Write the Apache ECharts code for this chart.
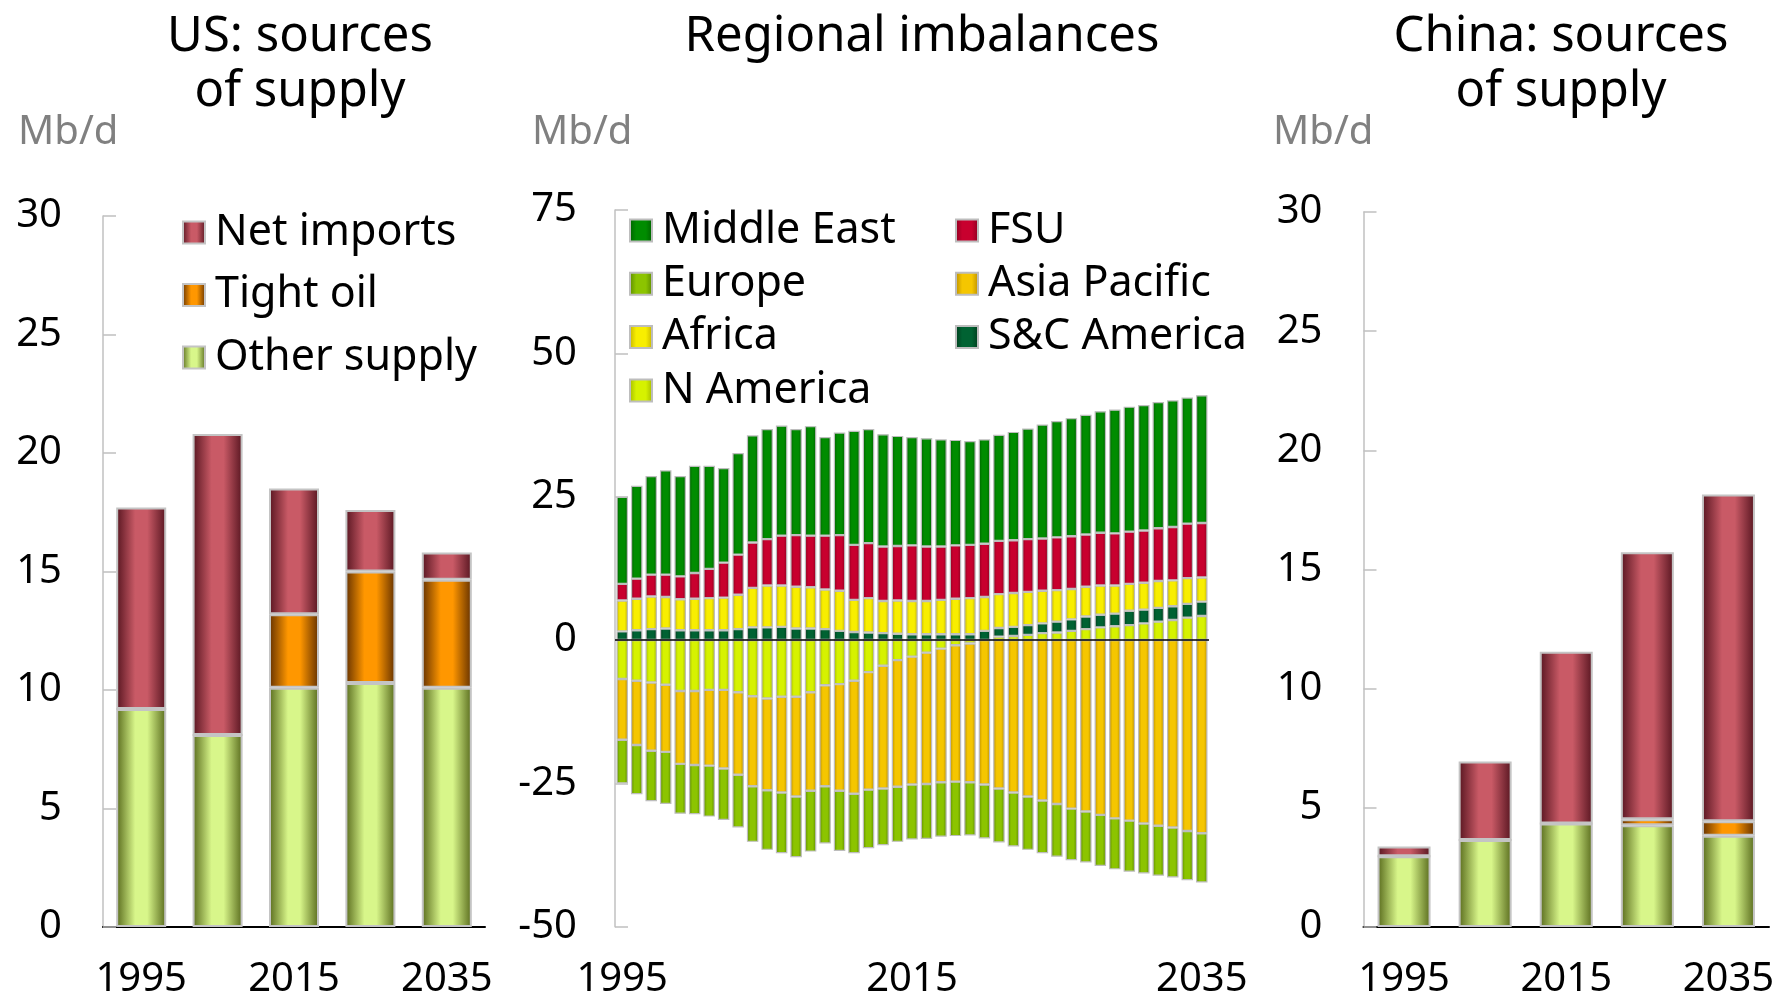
<!DOCTYPE html>
<html>
<head>
<meta charset="utf-8">
<title>Oil: sources of supply and regional imbalances</title>
<script src="https://cdn.jsdelivr.net/npm/echarts@6/dist/echarts.min.js"></script>
<style>
  html, body { margin: 0; padding: 0; background: #fff; }
  #chart { width: 1778px; height: 1000px; }
</style>
</head>
<body>
<div id="chart"></div>
<script>
// side panels (US, China), every 10 years
const sideYears = ['1995', '2005', '2015', '2025', '2035'];
const usOther = [9.2, 8.1, 10.1, 10.3, 10.1];
const usTight = [0, 0, 3.1, 4.7, 4.55];
const usNetImports = [8.5, 12.7, 5.3, 2.6, 1.15];
const cnOther = [2.97, 3.65, 4.34, 4.27, 3.83];
const cnTight = [0, 0, 0, 0.25, 0.61];
const cnNetImports = [0.41, 3.29, 7.21, 11.2, 13.71];

// regional imbalances, Mb/d, 1995-2035
const years = ['1995', '1996', '1997', '1998', '1999', '2000', '2001', '2002', '2003', '2004',
  '2005', '2006', '2007', '2008', '2009', '2010', '2011', '2012', '2013', '2014',
  '2015', '2016', '2017', '2018', '2019', '2020', '2021', '2022', '2023', '2024',
  '2025', '2026', '2027', '2028', '2029', '2030', '2031', '2032', '2033', '2034', '2035'];
const nAmerica = [-6.8, -7.1, -7.4, -7.8, -8.9, -8.9, -8.7, -8.7, -9.1, -9.8, -10.2, -9.9, -9.9, -9.1, -7.9, -7.7, -7.1, -5.6, -4.5, -3.5,
  -2.9, -2.2, -1.5, -0.9, -0.6, 0, 0.6, 0.7, 0.9, 1.2, 1.3, 1.6, 1.9, 2.2, 2.4, 2.6, 2.9, 3.2, 3.5, 3.9, 4.2];
const scAmerica = [1.5, 1.7, 1.9, 2.0, 1.7, 1.7, 1.7, 1.7, 1.9, 2.2, 2.2, 2.3, 2.0, 2.0, 1.9, 1.6, 1.4, 1.3, 1.2, 1.1,
  1.0, 1.0, 1.0, 1.0, 1.0, 1.6, 1.5, 1.6, 1.7, 1.7, 1.9, 2.0, 2.2, 2.2, 2.2, 2.5, 2.4, 2.4, 2.4, 2.4, 2.5];
const africa = [5.4, 5.5, 5.7, 5.5, 5.4, 5.5, 5.6, 5.7, 6.0, 6.9, 7.3, 7.2, 7.3, 7.2, 6.9, 7.0, 5.6, 6.0, 5.6, 5.8,
  5.8, 5.8, 6.0, 6.2, 6.3, 5.9, 5.9, 5.9, 5.8, 5.7, 5.5, 5.3, 5.2, 5.1, 4.9, 4.7, 4.7, 4.7, 4.5, 4.5, 4.2];
const fsu = [2.9, 3.5, 3.8, 3.9, 4.0, 4.5, 5.1, 6.1, 7.0, 7.9, 8.1, 8.7, 9.0, 9.0, 9.4, 9.7, 9.6, 9.6, 9.5, 9.5,
  9.7, 9.5, 9.3, 9.3, 9.3, 9.3, 9.3, 9.2, 9.2, 9.1, 9.2, 9.2, 9.1, 9.2, 9.1, 9.1, 9.1, 9.2, 9.3, 9.5, 9.5];
const middleEast = [15.2, 16.2, 17.2, 18.2, 17.5, 18.7, 18.0, 16.5, 17.7, 18.7, 19.2, 19.2, 18.5, 19.1, 17.2, 17.9, 19.9, 19.9, 19.6, 19.2,
  18.9, 18.9, 18.7, 18.4, 18.1, 18.2, 18.5, 18.9, 19.3, 19.9, 20.3, 20.6, 20.9, 21.2, 21.6, 21.8, 21.9, 22.0, 22.1, 22.0, 22.3];
const asiaPacific = [-10.6, -11.2, -11.9, -11.7, -12.7, -12.9, -13.2, -13.7, -14.4, -15.7, -16.0, -16.7, -17.4, -17.2, -17.6, -18.6, -19.7, -20.5, -21.4, -22.1,
  -22.3, -22.9, -23.3, -23.8, -24.2, -25.2, -25.9, -26.6, -27.3, -28.0, -28.6, -29.4, -29.9, -30.5, -31.1, -31.5, -32.0, -32.4, -32.7, -33.3, -33.7];
const europe = [-7.6, -8.6, -8.8, -9.1, -8.7, -8.6, -8.9, -9.0, -9.2, -9.7, -10.4, -10.6, -10.6, -10.6, -10.0, -10.5, -10.4, -10.2, -9.9, -9.6,
  -9.6, -9.6, -9.5, -9.5, -9.3, -9.4, -9.4, -9.4, -9.3, -9.2, -9.2, -9.0, -8.9, -8.9, -8.9, -8.9, -8.7, -8.7, -8.7, -8.6, -8.6];

const FONT = '"Noto Sans", "DejaVu Sans", sans-serif';

// cylinder-ish shading: dark edges, light middle
function shade(edge, mid, flat) {
  return new echarts.graphic.LinearGradient(0, 0, 1, 0, [
    { offset: 0, color: edge },
    { offset: flat, color: mid },
    { offset: 1 - flat, color: mid },
    { offset: 1, color: edge }
  ]);
}

const sideColors = {
  'Net imports': shade('#571520', '#c95a66', 0.38),
  'Tight oil': shade('#633000', '#ff9700', 0.38),
  'Other supply': shade('#586a1c', '#d8f68a', 0.38)
};
const midColors = {
  'N America': shade('#a2b800', '#d6f200', 0.3),
  'S&C America': shade('#003a1b', '#006232', 0.3),
  'Africa': shade('#c2b000', '#f8ee00', 0.3),
  'FSU': shade('#8a0020', '#c8002e', 0.3),
  'Middle East': shade('#005f00', '#008c00', 0.3),
  'Asia Pacific': shade('#b88c00', '#f5c600', 0.3),
  'Europe': shade('#5a8800', '#8cc400', 0.3)
};

function sideBar(name, data, idx, width) {
  return {
    name: name, type: 'bar', stack: 'side' + idx,
    xAxisIndex: idx, yAxisIndex: idx,
    barWidth: width, data: data,
    itemStyle: { color: sideColors[name], borderColor: '#c4c4c4', borderWidth: 2 }
  };
}
function midBar(name, data) {
  return {
    name: name, type: 'bar', stack: 'mid',
    xAxisIndex: 1, yAxisIndex: 1,
    barWidth: 11.5, data: data,
    itemStyle: { color: midColors[name], borderColor: '#bdbdbd', borderWidth: 1.2 }
  };
}

function valueAxis(idx, min, max, step, margin) {
  return {
    gridIndex: idx, type: 'value', min: min, max: max, interval: step,
    axisLine: { show: true, lineStyle: { color: '#c0c0c0', width: 1.5 } },
    axisTick: { show: true, inside: true, length: 13, lineStyle: { color: '#c0c0c0', width: 1.5 } },
    splitLine: { show: false },
    axisLabel: { fontSize: 40, color: '#000', fontFamily: FONT, margin: margin }
  };
}
function catAxis(idx, data, every, lineShow) {
  return {
    gridIndex: idx, type: 'category', data: data,
    axisLine: { show: lineShow, lineStyle: { color: '#000', width: 2 } },
    axisTick: { show: false },
    axisLabel: { interval: every, fontSize: 40, color: '#000', fontFamily: FONT, margin: 33 }
  };
}

function label(x, y, text, opts) {
  return {
    type: 'text', x: x, y: y, silent: true,
    style: Object.assign({
      text: text, fill: '#000', fontSize: 49, fontFamily: FONT,
      align: 'center', verticalAlign: 'middle', lineHeight: 55
    }, opts || {})
  };
}

const chart = echarts.init(document.getElementById('chart'));
const legendText = { fontSize: 43, color: '#000', fontFamily: FONT, padding: [0, 0, 0, 5] };

const midSeries = [
  midBar('N America', nAmerica),
  midBar('S&C America', scAmerica),
  midBar('Africa', africa),
  midBar('FSU', fsu),
  midBar('Middle East', middleEast),
  midBar('Asia Pacific', asiaPacific),
  midBar('Europe', europe)
];
// zero line drawn over the bars
midSeries[6].markLine = {
  silent: true, symbol: 'none', label: { show: false },
  lineStyle: { color: '#000', width: 1.5, type: 'solid' },
  emphasis: { disabled: true },
  data: [{ yAxis: 0 }]
};

chart.setOption({
  animation: false,
  backgroundColor: '#fff',
  graphic: [
    label(300, 65, 'US: sources\nof supply'),
    label(922, 37, 'Regional imbalances'),
    label(1561, 65, 'China: sources\nof supply'),
    label(18, 133, 'Mb/d', { fill: '#808080', fontSize: 40, align: 'left' }),
    label(532, 133, 'Mb/d', { fill: '#808080', fontSize: 40, align: 'left' }),
    label(1273, 133, 'Mb/d', { fill: '#808080', fontSize: 40, align: 'left' })
  ],
  legend: [
    {
      data: ['Net imports', 'Tight oil', 'Other supply'],
      orient: 'vertical', left: 182, top: 211, padding: 0,
      itemWidth: 22, itemHeight: 22, itemGap: 19.5, icon: 'rect',
      selectedMode: false, textStyle: legendText
    },
    {
      data: ['Middle East', 'Europe', 'Africa', 'N America'],
      orient: 'vertical', left: 629, top: 209, padding: 0,
      itemWidth: 22, itemHeight: 22, itemGap: 10.3, icon: 'rect',
      selectedMode: false, textStyle: legendText
    },
    {
      data: ['FSU', 'Asia Pacific', 'S&C America'],
      orient: 'vertical', left: 955, top: 209, padding: 0,
      itemWidth: 22, itemHeight: 22, itemGap: 10.3, icon: 'rect',
      selectedMode: false, textStyle: legendText
    }
  ],
  grid: [
    { left: 103, top: 216, width: 382, height: 711 },
    { left: 615, top: 210, width: 594, height: 716.7 },
    { left: 1363.5, top: 212, width: 405.5, height: 715 }
  ],
  xAxis: [
    catAxis(0, sideYears, 1, true),
    catAxis(1, years, 19, false),
    catAxis(2, sideYears, 1, true)
  ],
  yAxis: [
    valueAxis(0, 0, 30, 5, 41),
    valueAxis(1, -50, 75, 25, 38),
    valueAxis(2, 0, 30, 5, 41)
  ],
  series: [
    sideBar('Other supply', usOther, 0, 50),
    sideBar('Tight oil', usTight, 0, 50),
    sideBar('Net imports', usNetImports, 0, 50),
    ...midSeries,
    sideBar('Other supply', cnOther, 2, 53),
    sideBar('Tight oil', cnTight, 2, 53),
    sideBar('Net imports', cnNetImports, 2, 53)
  ]
});

window.addEventListener('resize', () => chart.resize());
</script>
</body>
</html>
